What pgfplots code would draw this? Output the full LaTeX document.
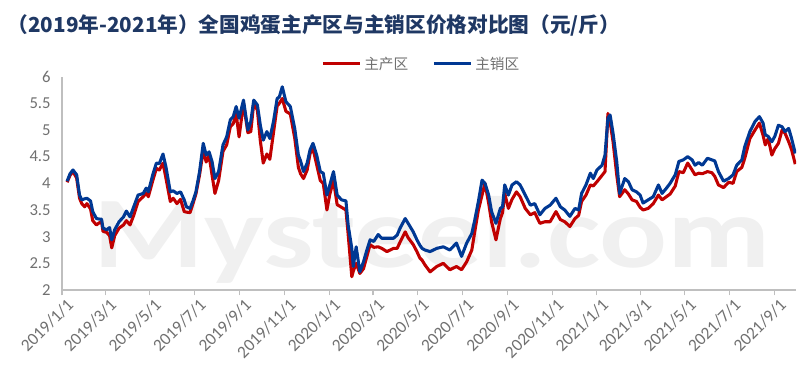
\documentclass[border=0pt]{standalone}
\usepackage{fontspec}
\setmainfont{Carlito}
\newfontfamily\cjk{Noto Sans CJK SC}
\usepackage{pgfplots}
\usepackage{pgfplotstable}
\pgfplotsset{compat=1.18}
\definecolor{cred}{RGB}{192,0,0}
\definecolor{cblue}{RGB}{0,56,147}
\definecolor{ctitle}{RGB}{31,56,100}
\definecolor{cgray}{RGB}{112,112,112}
\definecolor{caxis}{RGB}{191,191,191}

\pgfplotstableread{
day v
7 4.04
11 4.18
15 4.25
20 4.16
24 3.78
27 3.69
31 3.71
34 3.72
39 3.67
42 3.47
47 3.34
51 3.33
54 3.33
56 3.16
61 3.13
65 3.17
68 2.94
72 3.13
78 3.28
84 3.37
88 3.48
93 3.37
98 3.56
104 3.78
111 3.81
115 3.91
118 3.84
124 4.16
129 4.38
133 4.37
138 4.55
142 4.31
148 3.84
152 3.86
157 3.81
162 3.84
167 3.69
170 3.56
175 3.53
179 3.67
183 3.84
188 4.22
193 4.75
197 4.53
201 4.59
205 4.41
209 4.09
214 4.22
220 4.72
225 4.87
230 5.19
234 5.25
238 5.44
242 5.22
248 5.56
254 5.00
258 5.16
262 5.56
267 5.47
271 5.09
275 4.81
280 4.97
284 4.84
289 5.16
294 5.59
297 5.62
301 5.81
306 5.53
312 5.44
318 5.03
323 4.53
326 4.42
330 4.22
335 4.38
339 4.63
343 4.75
348 4.53
353 4.22
357 4.19
362 3.78
366 3.97
371 4.22
376 3.78
382 3.69
388 3.67
391 3.22
396 2.78
398 2.44
402 2.81
407 2.34
412 2.53
416 2.72
421 2.94
426 2.91
432 3.04
437 2.97
444 2.97
453 2.97
458 3.03
462 3.16
469 3.34
473 3.25
480 3.09
485 2.94
489 2.84
492 2.78
496 2.75
503 2.72
512 2.78
521 2.81
530 2.75
539 2.88
546 2.63
553 2.88
560 3.06
564 3.31
569 3.66
574 4.06
578 4.00
583 3.78
587 3.47
593 3.25
599 3.53
602 3.56
605 3.97
610 3.78
615 3.97
621 4.03
626 3.97
633 3.78
640 3.59
646 3.62
653 3.41
660 3.53
667 3.59
675 3.72
681 3.56
687 3.50
694 3.38
701 3.53
706 3.50
710 3.81
716 3.97
722 4.19
726 4.09
731 4.25
738 4.34
742 4.53
746 5.22
749 5.28
753 4.94
758 4.41
762 3.81
769 4.09
774 4.03
779 3.88
785 3.84
790 3.78
794 3.63
801 3.69
808 3.75
815 3.97
820 3.81
826 3.91
831 4.00
838 4.16
843 4.41
849 4.44
855 4.50
861 4.44
865 4.34
870 4.39
875 4.34
882 4.47
888 4.44
892 4.42
897 4.22
904 4.04
911 4.09
917 4.16
922 4.34
929 4.44
933 4.69
940 4.97
947 5.16
953 5.25
958 5.13
961 4.91
965 4.88
970 4.78
974 4.88
979 5.09
984 5.06
988 4.97
993 5.03
997 4.84
1002 4.56
}\bluedata

\pgfplotstableread{
day v
7 4.02
11 4.15
15 4.22
20 4.10
24 3.72
27 3.62
31 3.56
34 3.62
39 3.52
42 3.30
47 3.22
51 3.26
54 3.28
56 3.10
61 3.08
65 3.02
68 2.79
72 3.02
78 3.16
84 3.22
88 3.30
93 3.22
98 3.40
104 3.66
111 3.75
115 3.82
118 3.75
124 4.05
129 4.28
133 4.25
138 4.38
142 4.10
148 3.66
152 3.72
157 3.62
162 3.70
167 3.47
170 3.46
175 3.45
179 3.62
183 3.80
188 4.16
193 4.62
197 4.40
201 4.52
205 4.16
209 3.81
214 4.05
220 4.60
225 4.72
230 5.06
234 5.12
238 5.30
242 4.87
248 5.50
254 4.95
258 4.97
262 5.50
267 5.37
271 4.80
275 4.38
280 4.55
284 4.45
289 4.95
294 5.45
297 5.50
301 5.59
306 5.35
312 5.30
318 4.85
323 4.30
326 4.18
330 4.09
335 4.25
339 4.56
343 4.65
348 4.35
353 4.05
357 4.00
362 3.50
366 3.80
371 4.05
376 3.60
382 3.55
388 3.50
391 3.05
396 2.25
398 2.35
402 2.50
407 2.31
412 2.40
416 2.60
421 2.85
426 2.80
432 2.81
437 2.78
444 2.72
453 2.78
458 2.78
462 2.90
469 3.09
473 2.98
480 2.85
485 2.72
489 2.60
492 2.56
496 2.47
503 2.34
512 2.44
521 2.50
530 2.38
539 2.44
546 2.38
553 2.53
560 2.75
564 3.09
569 3.50
574 3.78
578 4.00
583 3.63
587 3.28
593 2.94
599 3.34
602 3.45
605 3.81
610 3.53
615 3.70
621 3.84
626 3.75
633 3.53
640 3.41
646 3.45
653 3.25
660 3.28
667 3.28
675 3.47
681 3.32
687 3.28
694 3.19
701 3.34
706 3.40
710 3.66
716 3.78
722 3.97
726 3.95
731 4.03
738 4.15
742 4.22
746 5.31
749 5.15
753 4.78
758 4.16
762 3.75
769 3.88
774 3.80
779 3.69
785 3.66
790 3.55
794 3.50
801 3.53
808 3.62
815 3.78
820 3.69
826 3.75
831 3.80
838 3.95
843 4.22
849 4.20
855 4.38
861 4.25
865 4.16
870 4.19
875 4.18
882 4.22
888 4.20
892 4.13
897 3.97
904 3.92
911 4.02
917 4.00
922 4.22
929 4.30
933 4.47
940 4.84
947 5.00
953 5.13
958 4.90
961 4.72
965 4.84
970 4.53
974 4.65
979 4.75
984 5.00
988 4.94
993 4.78
997 4.63
1002 4.36
}\reddata

\begin{document}
\begin{tikzpicture}[x=0.75pt,y=0.75pt]
\path[use as bounding box] (0,0) rectangle (807,392);
% faint watermark
\node[text=black!6, font=\bfseries\fontsize{76}{76}\selectfont, xscale=1.25] at (432,152) {Mysteel.com};
\node[anchor=west, text=ctitle, font=\cjk\bfseries\fontsize{15.5}{18}\selectfont] at (3,367) {（2019年-2021年）全国鸡蛋主产区与主销区价格对比图（元/斤）};
\begin{axis}[
  at={(46.5pt,76.5pt)}, anchor=south west,
  scale only axis, width=550.5pt, height=160pt,
  xmin=0, xmax=1003, ymin=2, ymax=6,
  axis x line*=bottom, axis y line*=left,
  axis line style={caxis, line width=0.8pt},
  xtick={0,59,120,181,243,304,365,425,486,547,609,670,731,790,851,912,974},
  xticklabels={2019/1/1,2019/3/1,2019/5/1,2019/7/1,2019/9/1,2019/11/1,2020/1/1,2020/3/1,2020/5/1,2020/7/1,2020/9/1,2020/11/1,2021/1/1,2021/3/1,2021/5/1,2021/7/1,2021/9/1},
  ytick={2,2.5,3,3.5,4,4.5,5,5.5,6},
  yticklabels={2,2.5,3,3.5,4,4.5,5,5.5,6},
  x tick style={caxis, line width=0.8pt},
  y tick style={draw=none},
  major tick length=4pt,
  tick align=outside,
  xticklabel style={rotate=45, anchor=north east, font=\fontsize{13}{14}\selectfont, text=cgray, inner sep=1pt, yshift=-2pt, xshift=2pt},
  yticklabel style={font=\fontsize{12.5}{13}\selectfont, text=cgray, xshift=-1pt},
  /pgf/number format/assume math mode=true,
  legend columns=2,
  legend style={at={(0.49,1.0)}, anchor=south, draw=none, fill=none,
    font=\cjk\fontsize{11}{12}\selectfont, text=cgray,
    /tikz/every even column/.append style={column sep=16pt}},
  legend image code/.code={\draw[#1, line width=2.2pt] (0pt,0pt) -- (28pt,0pt);},
]
\addplot[cred, line width=2.3pt, line join=round] table[x=day, y=v] {\reddata};
\addlegendentry{主产区}
\addplot[cblue, line width=2.3pt, line join=round] table[x=day, y=v] {\bluedata};
\addlegendentry{主销区}
\end{axis}
\end{tikzpicture}
\end{document}
